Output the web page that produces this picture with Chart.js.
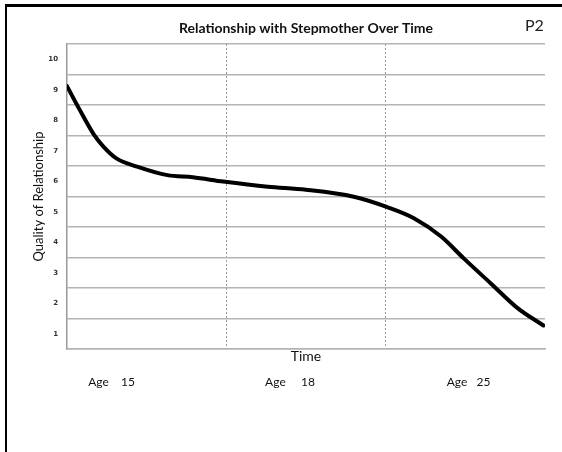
<!DOCTYPE html>
<html>
<head>
<meta charset="utf-8">
<script src="https://cdn.jsdelivr.net/npm/chart.js@4.4.1/dist/chart.umd.min.js"></script>
<style>
  html, body { margin: 0; padding: 0; background: #fff; overflow: hidden; }
  #frame {
    position: absolute; left: 5px; top: 4px;
    width: 600px; height: 500px;
    border-top: 3px solid #000; border-left: 2px solid #000;
  }
  #wrap { position: absolute; left: 0; top: 0; width: 555px; height: 445px; }
  #tag {
    position: absolute; left: 518px; top: 8px;
    font: 16px Lato, sans-serif; color: #222;
  }
</style>
</head>
<body>
<div id="frame">
  <div id="wrap"><canvas id="chart"></canvas></div>
  <div id="tag">P2</div>
</div>
<script>
/* ---------- data ---------- */
const timeX   = [0, 0.08, 0.17, 0.23, 0.31, 0.44, 0.63, 0.79, 0.98, 1.26, 1.50, 1.80, 2.01, 2.18, 2.35, 2.49, 2.66, 2.83, 2.99];
const quality = [9.12, 8.34, 7.52, 7.13, 6.75, 6.48, 6.20, 6.13, 5.99, 5.82, 5.72, 5.49, 5.15, 4.78, 4.18, 3.47, 2.65, 1.83, 1.27];
const yTicks = [1, 2, 3, 4, 5, 6, 7, 8, 9, 10];
const periodMarks = [0, 1, 2, 3];
const ageTicks  = [0.28, 1.40, 2.52];
const ageLabels = ["Age    15", "Age     18", "Age   25"];

const gridGrey = "#b4b4b4";

/* ---------- chart ---------- */
new Chart(document.getElementById("chart"), {
  type: "line",
  data: {
    datasets: [{
      label: "Quality",
      data: timeX.map((x, i) => ({ x, y: quality[i] })),
      borderColor: "#000",
      borderWidth: 4,
      borderCapStyle: "round",
      pointRadius: 0,
      cubicInterpolationMode: "monotone",
      xAxisID: "x",
      yAxisID: "y"
    }]
  },
  options: {
    responsive: true,
    maintainAspectRatio: false,
    animation: false,
    layout: { padding: { left: 20, right: 17, top: 0, bottom: 57 } },
    plugins: {
      legend: { display: false },
      tooltip: { enabled: false },
      title: {
        display: true,
        fullSize: false,
        text: "Relationship with Stepmother Over Time",
        color: "#111",
        font: { family: "Lato", size: 14, weight: "bold" },
        padding: { top: 12.6, bottom: 7.6 }
      }
    },
    scales: {
      x: {
        type: "linear",
        position: "bottom",
        weight: 0,
        min: 0, max: 3,
        afterBuildTicks: s => { s.ticks = periodMarks.map(v => ({ value: v })); },
        afterFit: s => { s.height = 16; },
        ticks: { display: false },
        grid: {
          drawTicks: false,
          lineWidth: 1,
          color: ctx => (ctx.index === 1 || ctx.index === 2) ? "#999" : "rgba(0,0,0,0)"
        },
        border: { display: true, color: gridGrey, width: 1.5, dash: [2, 2] },
        title: {
          display: true,
          text: "Time",
          color: "#111",
          font: { family: "Lato", size: 14 },
          padding: 0
        }
      },
      x2: {
        type: "linear",
        position: "bottom",
        weight: 1,
        min: 0, max: 3,
        afterBuildTicks: s => { s.ticks = ageTicks.map(v => ({ value: v })); },
        afterFit: s => { s.height = 30; },
        ticks: {
          autoSkip: false,
          maxRotation: 0,
          padding: 10,
          color: "#111",
          font: { family: "Lato", size: 12 },
          callback: (v, i) => ageLabels[i]
        },
        grid: { display: false, drawTicks: false },
        border: { display: false }
      },
      y: {
        type: "linear",
        min: 0.5, max: 10.5,
        afterBuildTicks: s => { s.ticks = yTicks.map(v => ({ value: v })); },
        afterFit: s => { s.width = 40; },
        ticks: {
          padding: 9,
          color: "#333",
          font: { family: "DejaVu Sans", size: 7, weight: "bold" }
        },
        grid: { offset: true, drawTicks: false, color: gridGrey, lineWidth: 1.5 },
        border: { display: true, color: "#999", width: 1.5 },
        title: {
          display: true,
          text: "Quality of Relationship",
          color: "#111",
          font: { family: "Lato", size: 13 },
          padding: { top: 4, bottom: 0 }
        }
      }
    }
  }
});
</script>
</body>
</html>
